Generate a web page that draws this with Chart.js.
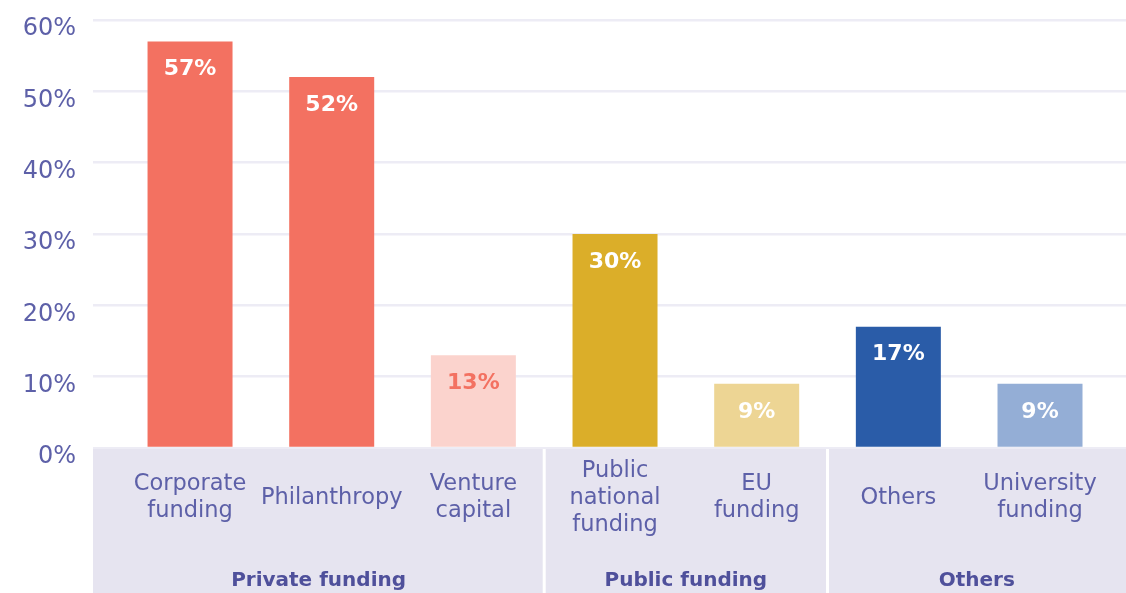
<!DOCTYPE html>
<html>
<head>
<meta charset="utf-8">
<script src="https://cdn.jsdelivr.net/npm/chart.js@4/dist/chart.umd.min.js"></script>
<style>
  html, body { margin: 0; padding: 0; background: #fff; }
  #wrap { width: 1126px; height: 593px; }
</style>
</head>
<body>
<div id="wrap"><canvas id="chart"></canvas></div>
<script>
// Datos
const CATEGORIAS = [
  ['Corporate', 'funding'],
  ['Philanthropy'],
  ['Venture', 'capital'],
  ['Public', 'national', 'funding'],
  ['EU', 'funding'],
  ['Others'],
  ['University', 'funding'],
];
const VALORES = [57, 52, 13, 30, 9, 17, 9];
const COLORES = ['#f37161', '#f37161', '#fbd3cd', '#dbae29', '#edd594', '#2a5ca8', '#94aed6'];
const COLOR_ETIQUETA = ['#ffffff', '#ffffff', '#f37161', '#ffffff', '#ffffff', '#ffffff', '#ffffff'];
const GRUPOS = ['Private funding', 'Public funding', 'Others'];
const GRUPO_RANGOS = [[0, 2], [3, 4], [5, 6]];
const Y_TICKS = [0, 10, 20, 30, 40, 50, 60];

const FUENTE = "'DejaVu Sans', sans-serif";
const AZUL_TEXTO = '#5d60a8';

// Banda gris inferior con etiquetas de categoría y grupo
const bandaPlugin = {
  id: 'banda',
  afterDraw(chart) {
    const { ctx, chartArea, scales } = chart;
    const x = scales.x;
    const top = chartArea.bottom + 1;
    const bottom = chart.height;
    ctx.save();
    ctx.fillStyle = '#e6e4f0';
    ctx.fillRect(chartArea.left, top, chartArea.right - chartArea.left, bottom - top);

    // separadores blancos entre grupos
    ctx.fillStyle = '#ffffff';
    GRUPO_RANGOS.slice(0, -1).forEach((r) => {
      const px = x.getPixelForValue(r[1] + 0.5);
      ctx.fillRect(px - 1.5, top, 3, bottom - top);
    });

    // etiquetas de categoría
    ctx.fillStyle = AZUL_TEXTO;
    ctx.font = `22.5px ${FUENTE}`;
    ctx.textAlign = 'center';
    ctx.textBaseline = 'middle';
    const lh = 27;
    CATEGORIAS.forEach((lineas, i) => {
      const cx = x.getPixelForValue(i);
      const y0 = 498 - (lineas.length - 1) * lh / 2;
      lineas.forEach((t, j) => ctx.fillText(t, cx, y0 + j * lh));
    });

    // etiquetas de grupo
    ctx.fillStyle = '#4f509b';
    ctx.font = `bold 20px ${FUENTE}`;
    GRUPOS.forEach((g, k) => {
      const r = GRUPO_RANGOS[k];
      const l = k === 0 ? chartArea.left : x.getPixelForValue(r[0] - 0.5);
      const rr = k === GRUPOS.length - 1 ? chartArea.right : x.getPixelForValue(r[1] + 0.5);
      ctx.fillText(g, (l + rr) / 2, 581);
    });
    ctx.restore();
  },
};

// Valores dentro de cada barra
const valoresPlugin = {
  id: 'valores',
  afterDatasetsDraw(chart) {
    const { ctx } = chart;
    const meta = chart.getDatasetMeta(0);
    ctx.save();
    ctx.font = `bold 22px ${FUENTE}`;
    ctx.textAlign = 'center';
    ctx.textBaseline = 'middle';
    meta.data.forEach((bar, i) => {
      ctx.fillStyle = COLOR_ETIQUETA[i];
      ctx.fillText(VALORES[i] + '%', bar.x, bar.y + 28);
    });
    ctx.restore();
  },
};

new Chart(document.getElementById('chart'), {
  type: 'bar',
  data: {
    datasets: [{
      data: VALORES.map((v, i) => ({ x: i, y: v })),
      backgroundColor: COLORES,
      borderWidth: 0,
      barPercentage: 0.6,
      categoryPercentage: 1,
    }],
  },
  options: {
    responsive: true, maintainAspectRatio: false, animation: false,
    layout: { padding: { top: 20, bottom: 145, left: 0, right: 0 } },
    scales: {
      x: {
        type: 'linear', offset: false, min: -0.685, max: 6.607, display: false,
        afterBuildTicks: (s) => { s.ticks = VALORES.map((v, i) => ({ value: i })); },
      },
      y: {
        min: 0, max: 60,
        afterBuildTicks: (s) => { s.ticks = Y_TICKS.map((v) => ({ value: v })); },
        afterFit: (s) => { s.width = 93; },
        border: { display: false },
        grid: { color: '#edecf5', lineWidth: 2.5, drawTicks: true, tickLength: 17, tickColor: 'rgba(0,0,0,0)' },
        ticks: {
          padding: 0, labelOffset: 9, color: AZUL_TEXTO,
          font: { family: FUENTE, size: 24 },
          callback: (v) => v + '%',
        },
      },
    },
    plugins: { legend: { display: false }, tooltip: { enabled: false } },
  },
  plugins: [bandaPlugin, valoresPlugin],
});
</script>
</body>
</html>
